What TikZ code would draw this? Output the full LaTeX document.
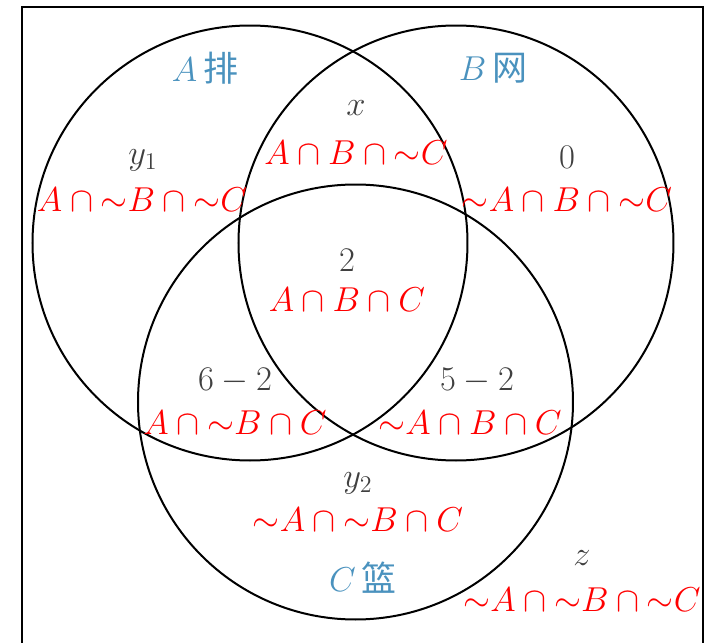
\documentclass[tikz,border=0pt]{standalone}
\usepackage{fontspec}
\newfontfamily\cjk{Noto Sans CJK SC}
\definecolor{labred}{RGB}{255,0,0}
\definecolor{numgray}{RGB}{64,64,64}
\definecolor{setblue}{RGB}{74,146,190}
\newcommand{\nt}{\mathord{\sim}}
\begin{document}
\begin{tikzpicture}[x=0.5pt,y=-0.5pt,
  setcirc/.style={circle,draw=black,line width=1pt,minimum size=217.5pt,inner sep=0pt},
  reg/.style={text=labred,font=\fontsize{16.5}{19}\selectfont,inner sep=0pt},
  num/.style={text=numgray,font=\fontsize{17.5}{19}\selectfont,inner sep=0pt},
  setlab/.style={text=setblue,font=\fontsize{17.5}{19}\selectfont,inner sep=0pt}]
\useasboundingbox (0,0) rectangle (720,643);
\coordinate (bl) at (22,660);
\coordinate (tl) at (22,7);
\coordinate (tr) at (703,7);
\coordinate (br) at (703,660);
\draw[line width=1pt] (bl) -- (tl) -- (tr) -- (br);
\node[setcirc] (A) at (250,243) {};
\node[setcirc] (B) at (456,243) {};
\node[setcirc] (C) at (355.5,402) {};
% set labels
\node[setlab] (la) at (205,68) {$A$\,\cjk 排};
\node[setlab] (lb) at (493,68) {$B$\,\cjk 网};
\node[setlab] (lc) at (363,578) {$C$\,\cjk 篮};
% regions
\node[num] (nx) at (356,108) {$x$};
\node[reg] (rx) at (356,153) {$A\cap B\cap\nt C$};
\node[num] (ny1) at (143,160) {$y_1$};
\node[reg] (ry1) at (142,200) {$A\cap\nt B\cap\nt C$};
\node[num] (n0) at (567,157) {$0$};
\node[reg] (r0) at (567,200) {$\nt A\cap B\cap\nt C$};
\node[num] (n2) at (347,260) {$2$};
\node[reg] (r2) at (347,300) {$A\cap B\cap C$};
\node[num] (n62) at (235,381) {$6-2$};
\node[reg] (r62) at (235,423) {$A\cap\nt B\cap C$};
\node[num] (n52) at (477,381) {$5-2$};
\node[reg] (r52) at (470,423) {$\nt A\cap B\cap C$};
\node[num] (ny2) at (358,483) {$y_2$};
\node[reg] (ry2) at (358,520) {$\nt A\cap\nt B\cap C$};
\node[num] (nz) at (582,558) {$z$};
\node[reg] (rz) at (582,600) {$\nt A\cap\nt B\cap\nt C$};
\end{tikzpicture}
\end{document}
